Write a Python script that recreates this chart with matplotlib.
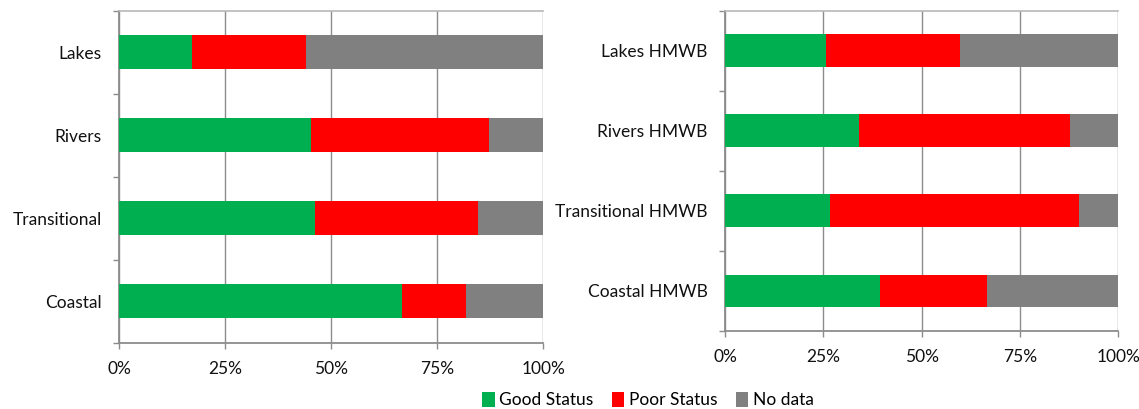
import matplotlib
matplotlib.use("Agg")
import matplotlib.pyplot as plt
import numpy as np

plt.rcParams['font.family'] = ['Lato', 'DejaVu Sans']

# Share of water bodies by status (fractions of 1)
natural_cats = ["Lakes", "Rivers", "Transitional", "Coastal"]
natural_good = [0.171, 0.451, 0.461, 0.667]
natural_poor = [0.269, 0.420, 0.386, 0.151]
natural_nodata = [0.560, 0.129, 0.153, 0.182]

hmwb_cats = ["Lakes HMWB", "Rivers HMWB", "Transitional HMWB", "Coastal HMWB"]
hmwb_good = [0.258, 0.341, 0.267, 0.393]
hmwb_poor = [0.340, 0.537, 0.634, 0.274]
hmwb_nodata = [0.402, 0.122, 0.099, 0.333]

series_names = ["Good Status", "Poor Status", "No data"]
series_colors = ["#00B050", "#FF0000", "#808080"]
x_ticks = [0, 0.25, 0.5, 0.75, 1.0]
x_ticklabels = ["0%", "25%", "50%", "75%", "100%"]

W, H = 1139, 409
fig = plt.figure(figsize=(W / 100, H / 100), dpi=100)
fig.patch.set_facecolor("white")


def px_axes(x0, y0, x1, y1):
    return fig.add_axes([x0 / W, 1 - y1 / H, (x1 - x0) / W, (y1 - y0) / H])


def draw(ax, cats, good, poor, nodata):
    n = len(cats)
    y = np.arange(n)
    good = np.array(good)
    poor = np.array(poor)
    nodata = np.array(nodata)
    handles = []
    left = np.zeros(n)
    for vals, name, col in zip([good, poor, nodata], series_names, series_colors):
        h = ax.barh(y, vals, left=left, height=0.405, color=col,
                    label=name, zorder=3, linewidth=0)
        handles.append(h)
        left = left + vals
    ax.set_xlim(0, 1)
    ax.set_ylim(n - 0.5, -0.5)
    ax.set_xticks(x_ticks)
    ax.set_xticklabels(x_ticklabels, fontsize=12.5, color="#111111")
    ax.set_yticks(np.arange(-0.5, n, 1.0))
    ax.set_yticklabels([])
    ax.set_yticks(y, minor=True)
    ax.set_yticklabels(cats, minor=True, fontsize=12.5, color="#111111")
    ax.tick_params(axis="y", which="major", length=4.3, color="#8c8c8c", width=1)
    ax.tick_params(axis="y", which="minor", length=0, pad=12.5)
    ax.tick_params(axis="x", which="major", length=4.5, color="#8c8c8c",
                   width=1, pad=9)
    ax.grid(axis="x", color="#8c8c8c", linewidth=1, zorder=0)
    for side in ["left", "bottom"]:
        ax.spines[side].set_color("#8c8c8c")
        ax.spines[side].set_linewidth(1.3)
    ax.spines["right"].set_visible(False)
    ax.spines["top"].set_color("#b8b8b8")
    ax.spines["top"].set_linewidth(1.2)
    return handles


ax1 = px_axes(119.3, 10.7, 543.3, 342.7)
handles = draw(ax1, natural_cats, natural_good, natural_poor, natural_nodata)

ax2 = px_axes(725, 10.7, 1118.3, 330.7)
draw(ax2, hmwb_cats, hmwb_good, hmwb_poor, hmwb_nodata)

fig.legend(handles, series_names, loc="center", bbox_to_anchor=(648 / W, 1 - 400 / H),
           ncol=3, frameon=False, fontsize=12.5, handlelength=0.7, handleheight=1.0,
           handletextpad=0.25, columnspacing=1.1, borderaxespad=0)

fig.savefig("out.png", dpi=100, facecolor="white")
